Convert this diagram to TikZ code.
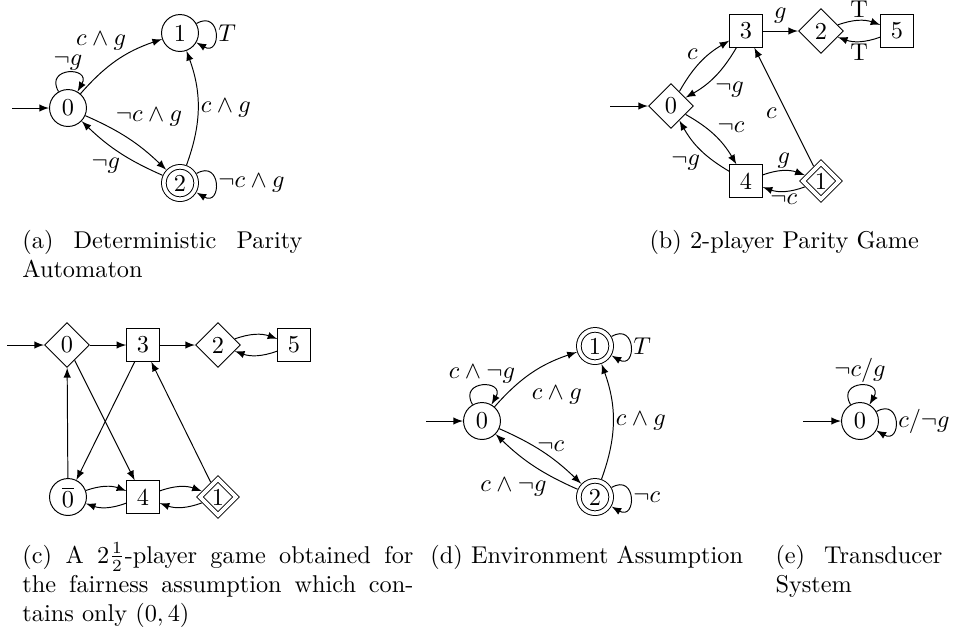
\documentclass[tikz,border=0pt]{standalone}
\usepackage{tikz}
\usepackage{amsmath}
\usepackage{amssymb}
\usetikzlibrary{shapes.geometric}

\begin{document}
\begin{tikzpicture}[x=0.4115pt,y=0.4115pt,>=latex,
    st/.style={circle,draw,minimum size=15.2pt,inner sep=0pt},
    acc/.style={st,double,double distance=1.5pt,minimum size=13.3pt,outer sep=1.2pt},
    pbox/.style={rectangle,draw,minimum size=13.3pt,inner sep=0pt},
    dia/.style={diamond,draw,minimum size=18.5pt,inner sep=0pt},
    dacc/.style={dia,double,double distance=1.5pt,minimum size=15.8pt,outer sep=1.2pt},
    lbl/.style={inner sep=1pt},
    captxt/.style={anchor=base west,inner sep=0pt,align=justify},
    loopup/.style={above,out=120,in=60,loop},
    loopright/.style={right,out=30,in=-30,loop},
    every loop/.style={min distance=12pt,looseness=1}]

      \useasboundingbox (0,0) rectangle (953,-630);

      % (a)
      \begin{scope}[every node/.style={st}]
        \node (a0) at (68,-108)  {0};
        \node (a1) at (180,-33)  {1};
        \node[acc] (a2) at (180,-183) {2};
      \end{scope}
      \coordinate (a0in) at (12,-108);

      % (b)
      \begin{scope}[every node/.style={pbox}]
        \node[dia]  (b0) at (671,-106) {0};
        \node       (b3) at (746,-31)  {3};
        \node[dia]  (b2) at (821,-31)  {2};
        \node       (b5) at (897,-31)  {5};
        \node       (b4) at (746,-181) {4};
        \node[dacc] (b1) at (821,-181) {1};
      \end{scope}
      \coordinate (b0in) at (610,-106);

      % (c)
      \begin{scope}[every node/.style={pbox}]
        \node[dia]  (c0)  at (67,-345)  {0};
        \node       (c3)  at (143,-345) {3};
        \node[dia]  (c2)  at (218,-345) {2};
        \node       (c5)  at (294,-345) {5};
        \node[st]   (c0b) at (68,-497)  {$\overline{0}$};
        \node       (c4)  at (143,-497) {4};
        \node[dacc] (c1)  at (218,-497) {1};
      \end{scope}
      \coordinate (c0in) at (7,-345);

      % (d)
      \begin{scope}[every node/.style={st}]
        \node (d0) at (482,-421) {0};
        \node[acc] (d1) at (595,-346) {1};
        \node[acc] (d2) at (595,-497) {2};
      \end{scope}
      \coordinate (d0in) at (426,-421);

      % (e)
      \node[st] (e0) at (860,-421) {0};
      \coordinate (e0in) at (803,-421);

      \begin{scope}[every node/.style={lbl}]

        \begin{scope}[every edge/.style={draw,->}]
          \path (a0in) edge (a0);
          \path (a0) edge[loopup] node {$\neg g$} (a0);
          \path (a1) edge[loopright] node {$T$} (a1);
          \path (a2) edge[loopright] node {$\neg c\wedge g$} (a2);
          \path (a0) edge[bend left=15] node[pos=0.65,above left] {$c\wedge g$} (a1);
          \path (a2) edge[bend right=20] node[right] {$c\wedge g$} (a1);
          \path (a0) edge[bend left=10] node[pos=0.3,above right] {$\neg c\wedge g$} (a2);
          \path (a2) edge[bend left=10] node[pos=0.45,below left] {$\neg g$} (a0);

          \path (b0in) edge (b0);
          \path (b3) edge node[above=2pt] {$g$} (b2);
          \path (b2) edge[bend left=20] node[above] {T} (b5);
          \path (b5) edge[bend left=20] node[below] {T} (b2);
          \path (b0) edge[bend left=15] node[above left] {$c$} (b3);
          \path (b3) edge[bend left=15] node[pos=0.55,below right] {$\neg g$} (b0);
          \path (b0) edge[bend left=15] node[above right] {$\neg c$} (b4);
          \path (b4) edge[bend left=15] node[pos=0.45,below left] {$\neg g$} (b0);
          \path (b4) edge[bend left=20] node[above] {$g$} (b1);
          \path (b1) edge[bend left=20] node[below] {$\neg c$} (b4);
          \path (b1) edge node[pos=0.45,left=3pt] {$c$} (b3);

          \path (c0in) edge (c0);
          \path (c0) edge (c3);
          \path (c3) edge (c2);
          \path (c2) edge[bend left=20] (c5);
          \path (c5) edge[bend left=20] (c2);
          \path (c0b) edge (c0);
          \path (c0) edge (c4);
          \path (c3) edge (c0b);
          \path (c1) edge (c3);
          \path (c0b) edge[bend left=20] (c4);
          \path (c4) edge[bend left=20] (c0b);
          \path (c4) edge[bend left=20] (c1);
          \path (c1) edge[bend left=20] (c4);

          \path (d0in) edge (d0);
          \path (d0) edge[loopup] node {$c\wedge\neg g$} (d0);
          \path (d1) edge[loopright] node {$T$} (d1);
          \path (d2) edge[loopright] node {$\neg c$} (d2);
          \path (d0) edge[bend left=15] node[pos=0.4,below right=2pt] {$c\wedge g$} (d1);
          \path (d2) edge[bend right=20] node[right] {$c\wedge g$} (d1);
          \path (d0) edge[bend left=10] node[pos=0.45,above right=-2pt] {$\neg c$} (d2);
          \path (d2) edge[bend left=10] node[pos=0.3,below left] {$c\wedge\neg g$} (d0);

          \path (e0in) edge (e0);
          \path (e0) edge[loopup] node {$\neg c/g$} (e0);
          \path (e0) edge[loopright] node {$c/\neg g$} (e0);
        \end{scope}

      \end{scope}

      \node[captxt,text width=115.2pt] (capa) at (22,-248) {(a) Deterministic Parity Automaton};
      \node[anchor=base west,inner sep=0pt] (capb) at (649,-248) {(b) 2-player Parity Game};
      \node[captxt,text width=160.9pt] (capc) at (22,-563) {(c) A $2\frac{1}{2}$-player game obtained for the fairness assumption which contains only $(0,4)$};
      \node[anchor=base west,inner sep=0pt] (capd) at (430,-563) {(d) Environment Assumption};
      \node[captxt,text width=68.7pt] (cape) at (775,-563) {(e) Transducer System};

    \end{tikzpicture}
\end{document}
